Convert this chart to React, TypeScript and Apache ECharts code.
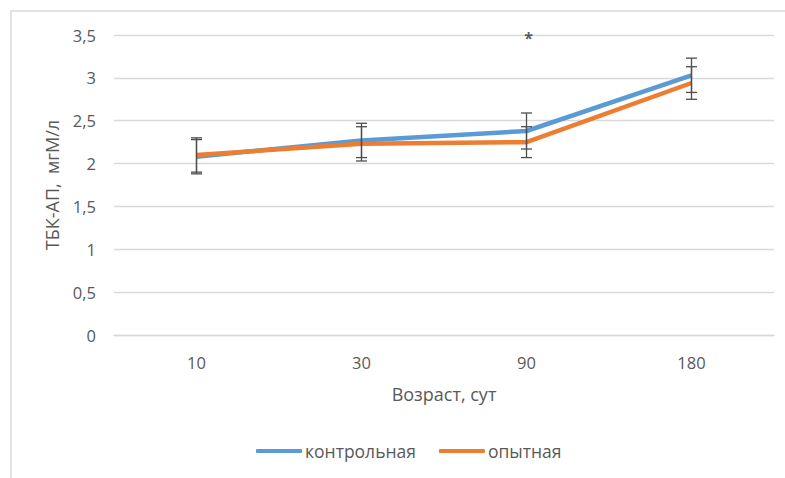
import React, { useEffect, useRef } from "react";
import * as echarts from "echarts";

const categories = ["10", "30", "90", "180"];
const controlValues = [2.08, 2.27, 2.38, 3.03];
const controlErrors = [0.2, 0.2, 0.21, 0.2];
const experimentValues = [2.1, 2.23, 2.25, 2.94];
const experimentErrors = [0.2, 0.2, 0.18, 0.19];
const yTicks = { min: 0, max: 3.5, interval: 0.5 };
const starPoint = { category: "90", value: 3.48 };

const FONT = "'Open Sans', 'Liberation Sans', sans-serif";
const TEXT = "#595959";
const BLUE = "#5B9BD5";
const ORANGE = "#ED7D31";

function errorSeries(name: string, values: number[], errors: number[]) {
  const data = values.map((v, i) => [i, v - errors[i], v + errors[i]]);
  return {
    type: "custom",
    name,
    z: 5,
    silent: true,
    renderItem: (_params: any, api: any) => {
      const x = api.value(0);
      const lo = api.coord([x, api.value(1)]);
      const hi = api.coord([x, api.value(2)]);
      const half = 5.5;
      const style = { stroke: "#4d4d4d", lineWidth: 1.3 };
      return {
        type: "group",
        children: [
          { type: "line", shape: { x1: lo[0], y1: lo[1], x2: hi[0], y2: hi[1] }, style },
          { type: "line", shape: { x1: lo[0] - half, y1: lo[1], x2: lo[0] + half, y2: lo[1] }, style },
          { type: "line", shape: { x1: hi[0] - half, y1: hi[1], x2: hi[0] + half, y2: hi[1] }, style },
        ],
      };
    },
    data,
    encode: { x: 0, y: [1, 2] },
  };
}

export default function App() {
  const ref = useRef<HTMLDivElement>(null);
  useEffect(() => {
    const chart = echarts.init(ref.current!, undefined, { renderer: "svg" });
    chart.setOption({
      animation: false,
      backgroundColor: "#fff",
      textStyle: { fontFamily: FONT, color: TEXT },
      graphic: [
        {
          type: "rect",
          shape: { x: 11, y: 11, width: 800, height: 500 },
          style: { fill: "none", stroke: "#d9d9d9", lineWidth: 1.5 },
          z: -1,
        },
      ],
      grid: { left: 114, right: 11, top: 35, bottom: 143 },
      legend: {
        bottom: 18,
        left: 256,
        padding: 0,
        itemWidth: 46,
        itemHeight: 4,
        itemGap: 23,
        icon: "roundRect",
        textStyle: { fontFamily: FONT, fontSize: 17.5, color: TEXT, padding: [0, 0, 0, -2] },
        data: [
          { name: "контрольная", itemStyle: { color: BLUE } },
          { name: "опытная", itemStyle: { color: ORANGE } },
        ],
      },
      xAxis: {
        type: "category",
        data: categories,
        boundaryGap: true,
        axisLine: { lineStyle: { color: "#d9d9d9", width: 1.3 } },
        axisTick: { show: false },
        axisLabel: { color: TEXT, fontSize: 16.5, margin: 19, fontFamily: FONT },
        name: "Возраст, сут",
        nameLocation: "middle",
        nameGap: 50,
        nameTextStyle: { color: TEXT, fontSize: 18, fontFamily: FONT },
      },
      yAxis: {
        type: "value",
        min: yTicks.min,
        max: yTicks.max,
        interval: yTicks.interval,
        axisLine: { show: false },
        axisTick: { show: false },
        splitLine: { lineStyle: { color: "#d9d9d9", width: 1.3 } },
        axisLabel: {
          color: TEXT,
          fontSize: 16.5,
          margin: 18,
          fontFamily: FONT,
          formatter: (v: number) => String(v).replace(".", ","),
        },
        name: "ТБК-АП,  мгМ/л",
        nameLocation: "middle",
        nameGap: 53,
        nameRotate: 90,
        nameTextStyle: { color: TEXT, fontSize: 18, fontFamily: FONT },
      },
      series: [
        {
          type: "line",
          name: "контрольная",
          data: controlValues,
          symbol: "none",
          lineStyle: { color: BLUE, width: 4.5 },
          itemStyle: { color: BLUE },
          z: 3,
        },
        {
          type: "line",
          name: "опытная",
          data: experimentValues,
          symbol: "none",
          lineStyle: { color: ORANGE, width: 4.5 },
          itemStyle: { color: ORANGE },
          z: 4,
        },
        errorSeries("err-control", controlValues, controlErrors),
        errorSeries("err-experiment", experimentValues, experimentErrors),
        {
          type: "scatter",
          name: "star",
          symbolSize: 0,
          data: [[starPoint.category, starPoint.value]],
          label: {
            show: true,
            position: "inside",
            formatter: "*",
            color: "#333",
            fontSize: 16,
            fontWeight: "bold",
            offset: [2, 1],
          },
          silent: true,
        },
      ],
    });
    return () => chart.dispose();
  }, []);
  return <div ref={ref} style={{ width: 785, height: 478, position: "absolute", left: 0, top: 0 }} />;
}
